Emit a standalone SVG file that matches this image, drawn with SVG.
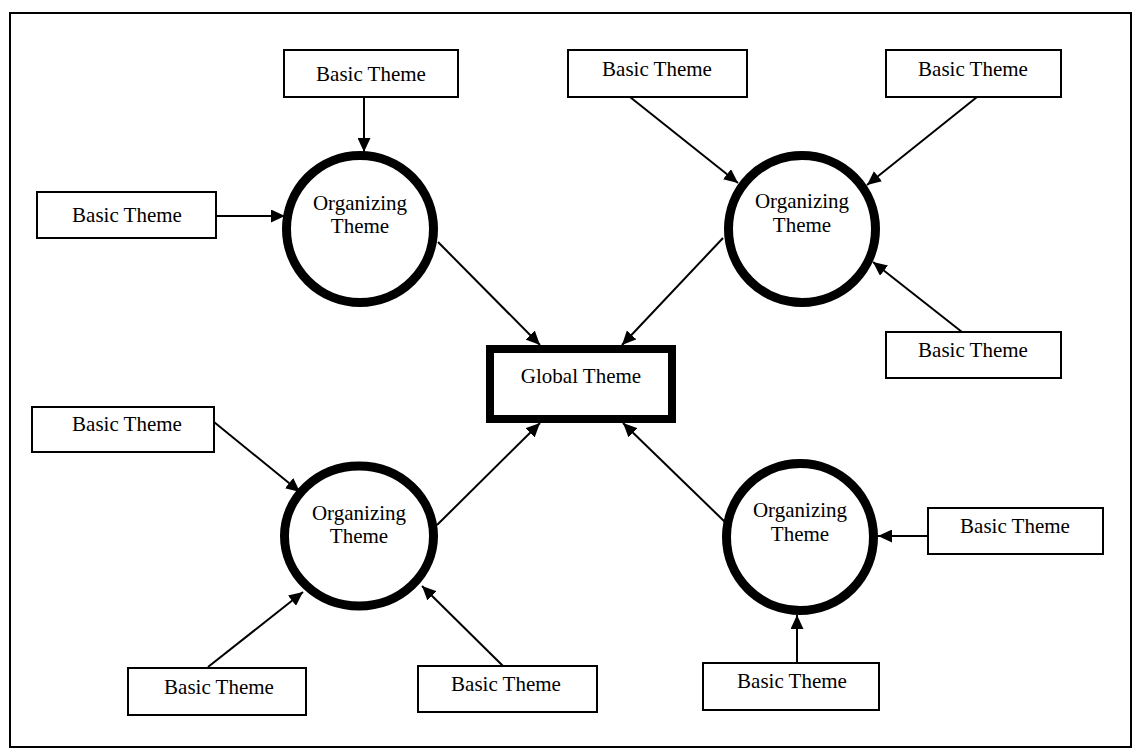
<svg xmlns="http://www.w3.org/2000/svg" width="1134" height="750" viewBox="0 0 1134 750">
<style>
.frame{fill:none;stroke:#000;stroke-width:2}
.box{fill:#fff;stroke:#000;stroke-width:2}
.gbox{fill:#fff;stroke:#000;stroke-width:8}
.circ{fill:#fff;stroke:#000;stroke-width:9}
.t{font-family:"Liberation Serif","Times New Roman",serif;font-size:21px;fill:#000;text-anchor:middle}
.c{stroke:#000;stroke-width:2;fill:none;marker-end:url(#ah)}
</style>
<defs>
<marker id="ah" markerUnits="userSpaceOnUse" markerWidth="15" markerHeight="13" refX="14" refY="6.5" orient="auto">
<path d="M0,0 L14,6.5 L0,13 z" fill="#000"/>
</marker>
</defs>
<rect width="1134" height="750" fill="#fff"/>
<rect class="frame" x="10" y="13" width="1121" height="734"/>

<g id="connectors">
<line class="c" x1="364" y1="97" x2="364" y2="152"/>
<line class="c" x1="216" y1="216" x2="285" y2="216"/>
<line class="c" x1="438" y1="242" x2="540" y2="345"/>
<line class="c" x1="630" y1="97" x2="738" y2="183"/>
<line class="c" x1="977" y1="97" x2="867" y2="185"/>
<line class="c" x1="962" y1="332" x2="873" y2="262"/>
<line class="c" x1="723" y1="238" x2="622" y2="345"/>
<line class="c" x1="214" y1="422" x2="300" y2="492"/>
<line class="c" x1="208" y1="667" x2="303" y2="592"/>
<line class="c" x1="503" y1="666" x2="422" y2="586"/>
<line class="c" x1="437" y1="525" x2="540" y2="423"/>
<line class="c" x1="725" y1="522" x2="623" y2="423"/>
<line class="c" x1="928" y1="536" x2="878" y2="536"/>
<line class="c" x1="797" y1="663" x2="797" y2="615"/>
</g>

<g id="global">
<rect class="gbox" x="490" y="349" width="182" height="70"/>
<text class="t" x="581" y="383">Global Theme</text>
</g>

<g id="org-tl">
<circle class="circ" cx="360" cy="229" r="73.5"/>
<text class="t" x="360" y="210">Organizing</text>
<text class="t" x="360" y="233">Theme</text>
</g>
<g id="org-tr">
<circle class="circ" cx="802" cy="229" r="73.5"/>
<text class="t" x="802" y="208">Organizing</text>
<text class="t" x="802" y="232">Theme</text>
</g>
<g id="org-bl">
<ellipse class="circ" cx="359" cy="536" rx="74.5" ry="70"/>
<text class="t" x="359" y="520">Organizing</text>
<text class="t" x="359" y="543">Theme</text>
</g>
<g id="org-br">
<circle class="circ" cx="800" cy="537" r="73.5"/>
<text class="t" x="800" y="517">Organizing</text>
<text class="t" x="800" y="541">Theme</text>
</g>

<g id="basic-1"><rect class="box" x="284" y="50" width="174" height="47"/><text class="t" x="371" y="81">Basic Theme</text></g>
<g id="basic-2"><rect class="box" x="37" y="192" width="179" height="46"/><text class="t" x="127" y="222">Basic Theme</text></g>
<g id="basic-3"><rect class="box" x="568" y="50" width="179" height="47"/><text class="t" x="657" y="76">Basic Theme</text></g>
<g id="basic-4"><rect class="box" x="886" y="50" width="175" height="47"/><text class="t" x="973" y="76">Basic Theme</text></g>
<g id="basic-5"><rect class="box" x="886" y="332" width="175" height="46"/><text class="t" x="973" y="357">Basic Theme</text></g>
<g id="basic-6"><rect class="box" x="32" y="407" width="182" height="45"/><text class="t" x="127" y="431">Basic Theme</text></g>
<g id="basic-7"><rect class="box" x="128" y="668" width="178" height="47"/><text class="t" x="219" y="694">Basic Theme</text></g>
<g id="basic-8"><rect class="box" x="418" y="666" width="179" height="46"/><text class="t" x="506" y="691">Basic Theme</text></g>
<g id="basic-9"><rect class="box" x="928" y="508" width="175" height="46"/><text class="t" x="1015" y="533">Basic Theme</text></g>
<g id="basic-10"><rect class="box" x="703" y="663" width="176" height="47"/><text class="t" x="792" y="688">Basic Theme</text></g>
</svg>
